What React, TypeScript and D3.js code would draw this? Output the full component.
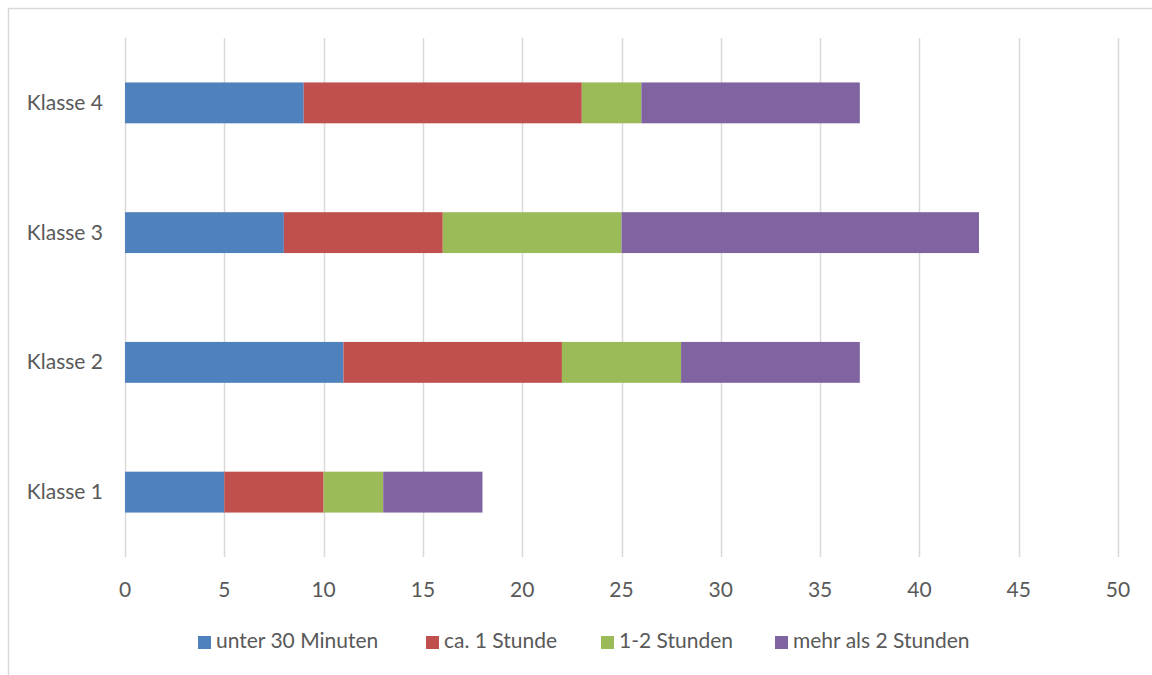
import { useEffect, useRef } from 'react'
import * as d3 from 'd3'

const categories = ['Klasse 1', 'Klasse 2', 'Klasse 3', 'Klasse 4']
const seriesNames = ['unter 30 Minuten', 'ca. 1 Stunde', '1-2 Stunden', 'mehr als 2 Stunden']
const seriesColors = ['#4f81bd', '#c0504d', '#9bbb59', '#8064a2']
// values per series, ordered like categories
const under30 = [5, 11, 8, 9]
const oneHour = [5, 11, 8, 14]
const oneToTwo = [3, 6, 9, 3]
const moreThanTwo = [5, 9, 18, 11]
const xTicks = [0, 5, 10, 15, 20, 25, 30, 35, 40, 45, 50]

const FONT = 'Lato, "Open Sans", sans-serif'
const FS = 21

export default function App() {
  const svgRef = useRef<SVGSVGElement | null>(null)

  useEffect(() => {
    if (!svgRef.current) return
    const svg = d3.select(svgRef.current)
    svg.selectAll('*').remove()

    const W = 1152, H = 675
    const m = { top: 38, right: 34, bottom: 118, left: 125 }
    const iW = W - m.left - m.right
    const iH = H - m.top - m.bottom

    // outer chart border (runs off the right/bottom edge)
    svg.append('rect').attr('x', 8.5).attr('y', 8.5)
      .attr('width', W + 20).attr('height', H + 20)
      .attr('fill', '#fff').attr('stroke', '#d9d9d9').attr('stroke-width', 1.5)

    const g = svg.append('g').attr('transform', `translate(${m.left},${m.top})`)

    const x = d3.scaleLinear().domain([0, 50]).range([0, iW])
    const y = d3.scaleBand().domain([...categories].reverse()).range([0, iH]).paddingInner(0.685).paddingOuter(0.3425)

    // grid
    g.selectAll('line.grid').data(xTicks).join('line')
      .attr('x1', d => Math.round(x(d)) + 0.5).attr('x2', d => Math.round(x(d)) + 0.5)
      .attr('y1', 0).attr('y2', iH)
      .attr('stroke', '#d9d9d9').attr('stroke-width', 1.5)

    const data = categories.map((c, i) => ({
      cat: c,
      [seriesNames[0]]: under30[i],
      [seriesNames[1]]: oneHour[i],
      [seriesNames[2]]: oneToTwo[i],
      [seriesNames[3]]: moreThanTwo[i],
    }))
    const stacked = d3.stack<any>().keys(seriesNames)(data)

    stacked.forEach((layer, si) => {
      g.selectAll(`rect.s${si}`).data(layer).join('rect')
        .attr('x', d => x(d[0]))
        .attr('width', d => x(d[1]) - x(d[0]))
        .attr('y', d => y(d.data.cat)!)
        .attr('height', y.bandwidth())
        .attr('fill', seriesColors[si])
    })

    // x tick labels
    g.selectAll('text.xt').data(xTicks).join('text')
      .attr('x', d => x(d)).attr('y', iH + 40)
      .attr('text-anchor', 'middle')
      .attr('fill', '#595959').attr('font-size', FS).attr('font-family', FONT)
      .text(d => d)

    // category labels
    g.selectAll('text.cat').data(categories).join('text')
      .attr('x', -22).attr('y', d => y(d)! + y.bandwidth() / 2 + 7)
      .attr('text-anchor', 'end')
      .attr('fill', '#595959').attr('font-size', FS).attr('font-family', FONT)
      .text(d => d)

    // legend
    const legendX = [198, 426, 601, 775]
    const lg = svg.append('g').attr('transform', 'translate(0,648)')
    seriesNames.forEach((name, i) => {
      lg.append('rect').attr('x', legendX[i]).attr('y', -12).attr('width', 13).attr('height', 13)
        .attr('fill', seriesColors[i])
      lg.append('text').attr('x', legendX[i] + 18).attr('y', 0)
        .attr('fill', '#595959').attr('font-size', FS).attr('font-family', FONT)
        .text(name)
    })
  }, [])

  return (
    <div style={{ position: 'absolute', left: 0, top: 0 }}>
      <svg ref={svgRef} width={1152} height={675} style={{ display: 'block' }} />
    </div>
  )
}
